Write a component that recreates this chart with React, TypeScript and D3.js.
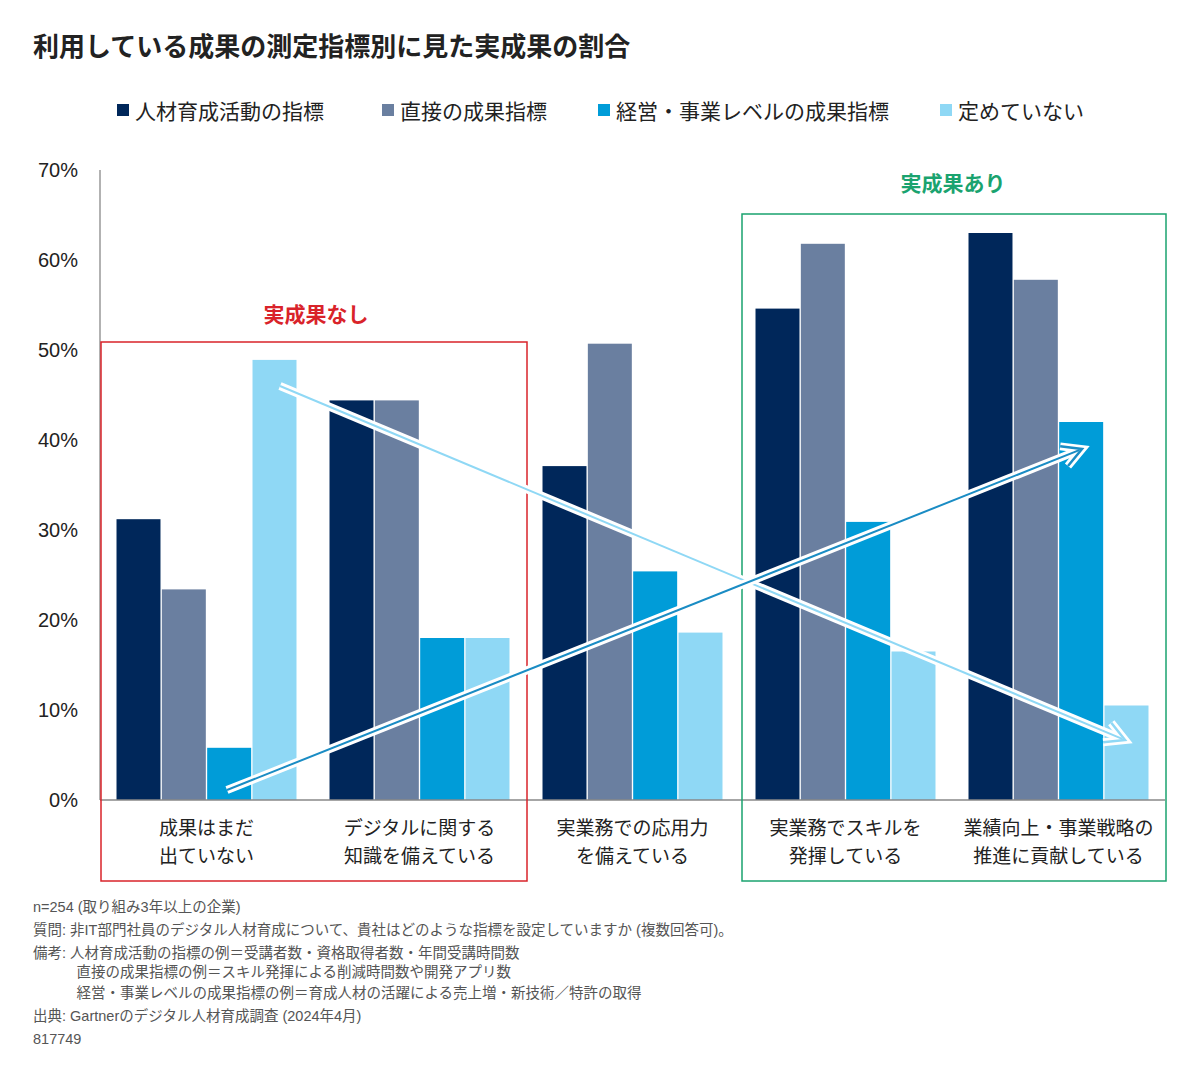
import React from "react";
import * as d3 from "d3";

const categories = [["成果はまだ","出ていない"],["デジタルに関する","知識を備えている"],["実業務での応用力","を備えている"],["実業務でスキルを","発揮している"],["業績向上・事業戦略の","推進に貢献している"]];
const seriesNames = ["人材育成活動の指標","直接の成果指標","経営・事業レベルの成果指標","定めていない"];
const colors = ["#00275a","#6a7fa0","#009cd8","#8fd8f5"];
const values = [
  [31.2,23.4,5.8,48.9],
  [44.4,44.4,18.0,18.0],
  [37.1,50.7,25.4,18.6],
  [54.6,61.8,30.9,16.5],
  [63.0,57.8,42.0,10.5],
];
const yTicks = [0,10,20,30,40,50,60,70];
const notes = ["n=254 (取り組み3年以上の企業)","質問: 非IT部門社員のデジタル人材育成について、貴社はどのような指標を設定していますか  (複数回答可)。","備考: 人材育成活動の指標の例＝受講者数・資格取得者数・年間受講時間数","　　　直接の成果指標の例＝スキル発揮による削減時間数や開発アプリ数","　　　経営・事業レベルの成果指標の例＝育成人材の活躍による売上増・新技術／特許の取得","出典: Gartnerのデジタル人材育成調査 (2024年4月)","817749"];

const font = "'Liberation Sans','Noto Sans CJK JP',sans-serif";

export default function App() {
  const y = d3.scaleLinear().domain([0,70]).range([800,170]);
  const x0 = d3.scaleBand<number>().domain(d3.range(5)).range([100,1165]).paddingInner(0.155).paddingOuter(0.0775);
  const x1 = d3.scaleBand<number>().domain(d3.range(4)).range([0,x0.bandwidth()]).paddingInner(0.03);
  const arrow = (x1_:number,y1_:number,x2:number,y2:number,c:string) => {
    const a = Math.atan2(y2-y1_,x2-x1_);
    const L=22, s=0.5;
    const p1=[x2-L*Math.cos(a-s),y2-L*Math.sin(a-s)];
    const p2=[x2-L*Math.cos(a+s),y2-L*Math.sin(a+s)];
    const d=`M${p1[0]},${p1[1]}L${x2},${y2}L${p2[0]},${p2[1]}`;
    return (<g>
      <line x1={x1_} y1={y1_} x2={x2-3*Math.cos(a)} y2={y2-3*Math.sin(a)} stroke="#fff" strokeWidth={8}/>
      <path d={d} fill="none" stroke="#fff" strokeWidth={8} strokeLinejoin="miter"/>
      <line x1={x1_} y1={y1_} x2={x2-3*Math.cos(a)} y2={y2-3*Math.sin(a)} stroke={c} strokeWidth={2}/>
      <path d={d} fill="none" stroke={c} strokeWidth={2.5}/>
    </g>);
  };
  const legX = [117,382,598,940];
  return (
    <svg width={1200} height={1067} style={{display:"block",margin:-8}} fontFamily={font}>
      <rect width={1200} height={1067} fill="#fff"/>
      <text x={33} y={56} fontSize={26} fontWeight="bold" fill="#222">利用している成果の測定指標別に見た実成果の割合</text>
      {seriesNames.map((n,i)=>(<g key={i}>
        <rect x={legX[i]} y={104} width={12} height={12} fill={colors[i]}/>
        <text x={legX[i]+18} y={119} fontSize={21} fill="#222">{n}</text>
      </g>))}
      {yTicks.map(t=>(<text key={t} x={78} y={y(t)+7} fontSize={20} textAnchor="end" fill="#222">{t}%</text>))}
      <line x1={100} x2={100} y1={170} y2={800} stroke="#999" strokeWidth={1.5}/>
      {values.map((g,gi)=>g.map((v,si)=>(
        <rect key={gi+"-"+si} x={x0(gi)!+x1(si)!} y={y(v)} width={x1.bandwidth()} height={y(0)-y(v)} fill={colors[si]}/>
      )))}
      <line x1={100} x2={1165} y1={800} y2={800} stroke="#888" strokeWidth={1.5}/>
      {categories.map((c,i)=>(<text key={i} x={x0(i)!+x0.bandwidth()/2} fontSize={19} textAnchor="middle" fill="#222">
        <tspan x={x0(i)!+x0.bandwidth()/2} y={835}>{c[0]}</tspan>
        <tspan x={x0(i)!+x0.bandwidth()/2} y={863}>{c[1]}</tspan>
      </text>))}
      <rect x={101} y={342} width={426} height={539} fill="none" stroke="#d9232a" strokeWidth={1.5}/>
      <text x={316} y={322} fontSize={21} fontWeight="bold" fill="#d9232a" textAnchor="middle">実成果なし</text>
      <rect x={742} y={214} width={424} height={667} fill="none" stroke="#1aa36f" strokeWidth={1.5}/>
      <text x={953} y={191} fontSize={21} fontWeight="bold" fill="#1aa36f" textAnchor="middle">実成果あり</text>
      {arrow(280,386,1125,740,"#8fd8f5")}
      {arrow(227,790,1082,449,"#1a8cc4")}
      {notes.map((n,i)=>(<text key={i} x={33} y={[912,935,958,977,998,1021,1044][i]} fontSize={14.5} fill="#555">{n}</text>))}
    </svg>
  );
}
